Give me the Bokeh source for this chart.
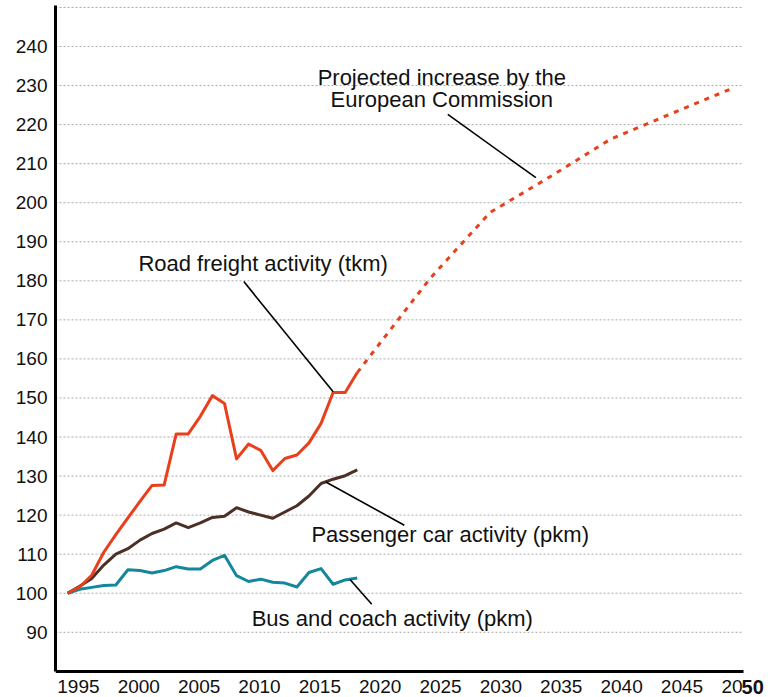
from bokeh.plotting import figure
from bokeh.models import Range1d, FixedTicker
from bokeh.core.properties import value
from bokeh.embed import file_html
from bokeh.resources import INLINE

# ---- data ----
years = list(range(1995, 2020))
road_freight = [100, 101.6, 104.6, 110.5, 115.0, 119.3, 123.5, 127.6, 127.7, 140.8,
                140.8, 145.3, 150.6, 148.6, 134.4, 138.2, 136.6, 131.4, 134.5, 135.4,
                138.5, 143.5, 151.4, 151.4, 156.5]
passenger_car = [100, 101.8, 103.8, 107.2, 110.0, 111.4, 113.6, 115.3, 116.4, 118.0,
                 116.8, 118.0, 119.4, 119.7, 121.9, 120.8, 120.0, 119.2, 120.8, 122.4,
                 124.9, 128.1, 129.2, 130.1, 131.6]
bus_coach = [100, 101.0, 101.5, 102.0, 102.1, 106.0, 105.8, 105.2, 105.8, 106.8,
             106.2, 106.2, 108.4, 109.7, 104.5, 103.0, 103.6, 102.8, 102.6, 101.6,
             105.3, 106.3, 102.3, 103.4, 103.9]
proj_years = [2019, 2020, 2025, 2030, 2035, 2040, 2045, 2050]
proj_values = [156.5, 160.5, 180.5, 197.5, 206.7, 216.3, 222.8, 229.2]

y_tick_values = list(range(90, 250, 10))
grid_values = list(range(90, 260, 10))
x_tick_years = list(range(1995, 2051, 5))

# annotation texts and leader lines
label_texts = ["Road freight activity (tkm)", "Projected increase by the",
               "European Commission", "Passenger car activity (pkm)",
               "Bus and coach activity (pkm)"]
label_x = [2011.2, 2026.0, 2026.0, 2026.7, 2021.9]
label_y = [184.4, 232.1, 226.5, 115.0, 93.6]
leader_x0 = [2009.6, 2026.5, 2016.4, 2018.4]
leader_y0 = [179.8, 222.6, 128.5, 103.5]
leader_x1 = [2017.0, 2033.8, 2022.9, 2020.2]
leader_y1 = [151.6, 206.4, 117.4, 97.2]

RED = "#e8401c"
BROWN = "#4c2f27"
TEAL = "#14879c"
FONT = "Liberation Sans"
BASE = 80
X_START, X_END = 1994, 2051

p = figure(width=768, height=697, output_backend="svg", toolbar_location=None,
           x_range=Range1d(X_START, 2053.07), y_range=Range1d(73.3, 250.5),
           min_border_left=55, min_border_right=0, min_border_top=5,
           min_border_bottom=0)
p.outline_line_color = None
p.background_fill_color = "white"
p.border_fill_color = "white"
p.xgrid.visible = False
p.ygrid.visible = False

# horizontal dotted grid lines, ending where the x axis ends
p.segment(x0=[X_START] * len(grid_values), y0=grid_values,
          x1=[X_END] * len(grid_values), y1=grid_values,
          line_color="#a8a8a8", line_dash="2 2", line_width=1)

for ax in (p.xaxis[0], p.yaxis[0]):
    ax.axis_line_width = 3
    ax.axis_line_color = "black"
    ax.major_tick_line_color = None
    ax.minor_tick_line_color = None
    ax.major_tick_out = 0
    ax.major_tick_in = 0
    ax.major_label_text_font = FONT
    ax.major_label_text_font_size = "19px"
    ax.major_label_text_color = "#111111"

p.yaxis.ticker = FixedTicker(ticks=y_tick_values)
p.yaxis.major_label_standoff = 8
p.yaxis.bounds = (BASE, 250.5)

tick_pos = [round(y + 0.9, 2) for y in x_tick_years[:-1]] + [2050.05]
p.xaxis.ticker = FixedTicker(ticks=tick_pos)
overrides = {pos: str(y) for pos, y in zip(tick_pos[:-1], x_tick_years[:-1])}
overrides[tick_pos[-1]] = "20"
p.xaxis.major_label_overrides = overrides
p.xaxis.major_label_standoff = 9
p.xaxis.fixed_location = BASE
p.xaxis.bounds = (X_START, X_END)

# the bold "50" that ends the last year label in the reference
p.text(x=[2051.76], y=[76.0], text=["50"], text_font=value(FONT),
       text_font_size="20px", text_font_style="bold", text_align="center",
       text_baseline="alphabetic", text_color="#111111")

p.line(proj_years, proj_values, color=RED, line_width=3, line_dash="5 6")
p.line(years, bus_coach, color=TEAL, line_width=3, line_join="round")
p.line(years, passenger_car, color=BROWN, line_width=3, line_join="round")
p.line(years, road_freight, color=RED, line_width=3, line_join="round")

p.segment(leader_x0, leader_y0, leader_x1, leader_y1, color="black", line_width=1.6)

p.text(x=label_x, y=label_y, text=label_texts, text_font=value(FONT),
       text_font_size="22px", text_align="center", text_baseline="alphabetic",
       text_color="#111111")

open("out.html", "w").write(file_html(p, INLINE))
